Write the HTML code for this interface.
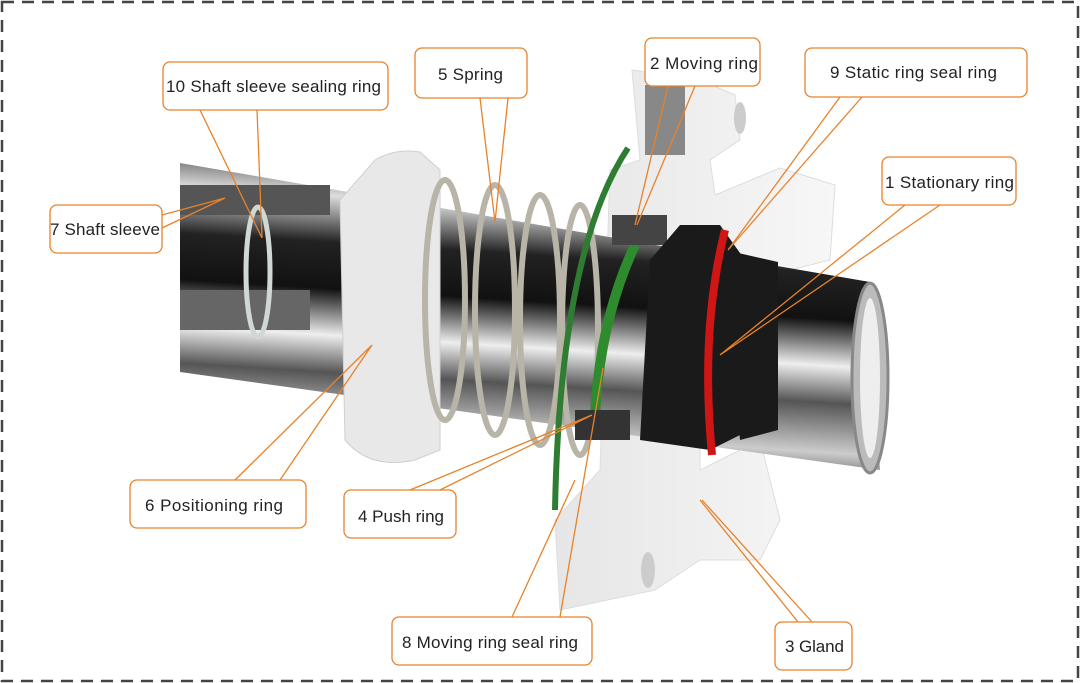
<!DOCTYPE html>
<html><head><meta charset="utf-8"><style>
html,body{margin:0;padding:0;background:#fff;}
svg{display:block;}
text{font-family:"Liberation Sans",sans-serif;font-size:17px;fill:#222;}
</style></head><body>
<svg width="1080" height="683" viewBox="0 0 1080 683">
<defs>
<linearGradient id="sh" x1="0" y1="0" x2="0" y2="1" gradientTransform="rotate(8 .5 .5)">
<stop offset="0" stop-color="#333"/><stop offset=".15" stop-color="#ddd"/><stop offset=".3" stop-color="#222"/><stop offset=".45" stop-color="#111"/><stop offset=".6" stop-color="#eee"/><stop offset=".72" stop-color="#555"/><stop offset=".88" stop-color="#ccc"/><stop offset="1" stop-color="#444"/>
</linearGradient>
<linearGradient id="wh" x1="0" y1="0" x2="1" y2="0"><stop offset="0" stop-color="#e6e6e6"/><stop offset="1" stop-color="#f7f7f7"/></linearGradient>
</defs>
<rect x="2" y="2" width="1076" height="679" fill="none" stroke="#444" stroke-width="2.5" stroke-dasharray="12 8"/>
<!-- gland -->
<path d="M632 70 L700 80 L735 95 L740 140 L710 160 L715 195 L780 168 L835 185 L830 260 L770 275 L700 300 L700 470 L760 440 L780 520 L760 560 L700 560 L655 590 L560 610 L555 520 L600 470 L610 170 L640 160 Z" fill="url(#wh)" stroke="#ddd"/>
<rect x="645" y="85" width="40" height="70" fill="#888"/>
<ellipse cx="740" cy="118" rx="6" ry="16" fill="#ccc"/>
<ellipse cx="648" cy="570" rx="7" ry="18" fill="#ccc"/>
<!-- shaft -->
<polygon points="180,163 870,282 880,470 180,372" fill="url(#sh)"/>
<ellipse cx="870" cy="378" rx="18" ry="95" fill="#bbb" stroke="#888" stroke-width="3"/>
<ellipse cx="870" cy="378" rx="10" ry="80" fill="#eee"/>
<rect x="180" y="185" width="150" height="30" fill="#555"/>
<rect x="180" y="290" width="130" height="40" fill="#666"/>
<ellipse cx="258" cy="272" rx="12" ry="65" fill="none" stroke="#cfd8d4" stroke-width="5"/>
<!-- positioning ring -->
<path d="M375 160 Q395 148 420 152 L440 170 L440 450 L415 460 Q370 470 345 440 L340 200 Z" fill="#e8e8e8" stroke="#cfcfcf"/>
<!-- spring -->
<g fill="none" stroke="#b8b4a8" stroke-width="6">
<ellipse cx="445" cy="300" rx="20" ry="120"/>
<ellipse cx="495" cy="310" rx="20" ry="125"/>
<ellipse cx="540" cy="320" rx="20" ry="125"/>
<ellipse cx="580" cy="330" rx="18" ry="125"/>
</g>
<!-- green rings -->
<path d="M628 148 Q560 250 555 510" fill="none" stroke="#2e7d32" stroke-width="6"/>
<path d="M635 245 Q600 320 595 415" fill="none" stroke="#2e8b2e" stroke-width="10"/>
<!-- push ring pieces -->
<rect x="612" y="215" width="55" height="30" fill="#444"/>
<rect x="575" y="410" width="55" height="30" fill="#333"/>
<!-- stationary ring -->
<path d="M680 225 L720 225 L745 260 L750 430 L710 450 L640 440 L650 260 Z" fill="#1a1a1a"/>
<path d="M725 250 L778 262 L778 430 L740 440 Z" fill="#1a1a1a"/>
<path d="M725 230 Q700 330 712 455" fill="none" stroke="#d01515" stroke-width="8"/>
<!-- leaders -->
<g stroke="#e8822a" stroke-width="1.3" fill="none">
<path d="M200 110 L262 238 M257 110 L262 238"/>
<path d="M480 98 L495 222 M508 98 L495 222"/>
<path d="M668 86 L635 225 M695 86 L637 225"/>
<path d="M840 97 L728 250 M862 97 L728 250"/>
<path d="M905 205 L720 355 M940 205 L720 355"/>
<path d="M162 215 L225 198 M162 228 L225 198"/>
<path d="M235 480 L372 345 M280 480 L372 345"/>
<path d="M410 490 L592 415 M440 490 L592 415"/>
<path d="M512 617 L575 480 M560 617 L603 368"/>
<path d="M798 622 L700 500 M812 622 L702 500"/>
</g>
<!-- boxes -->
<g fill="#fff" stroke="#e8822a" stroke-width="1.3">
<rect x="163" y="62" width="225" height="48" rx="7"/>
<rect x="415" y="48" width="112" height="50" rx="7"/>
<rect x="645" y="38" width="115" height="48" rx="7"/>
<rect x="805" y="48" width="222" height="49" rx="7"/>
<rect x="882" y="157" width="134" height="48" rx="7"/>
<rect x="50" y="205" width="112" height="48" rx="7"/>
<rect x="130" y="480" width="176" height="48" rx="7"/>
<rect x="344" y="490" width="112" height="48" rx="7"/>
<rect x="392" y="617" width="200" height="48" rx="7"/>
<rect x="775" y="622" width="77" height="48" rx="7"/>
</g>
<text x="166" y="92" textLength="215">10 Shaft sleeve sealing ring</text>
<text x="438" y="80" textLength="65">5 Spring</text>
<text x="650" y="69" textLength="108">2  Moving ring</text>
<text x="830" y="78" textLength="167">9 Static ring seal ring</text>
<text x="885" y="188" textLength="129">1 Stationary ring</text>
<text x="50" y="235" textLength="110">7 Shaft sleeve</text>
<text x="145" y="511" textLength="138">6 Positioning ring</text>
<text x="358" y="522" textLength="86">4 Push ring</text>
<text x="402" y="648" textLength="176">8 Moving ring seal ring</text>
<text x="785" y="652" textLength="59">3 Gland</text>
</svg>
</body></html>
